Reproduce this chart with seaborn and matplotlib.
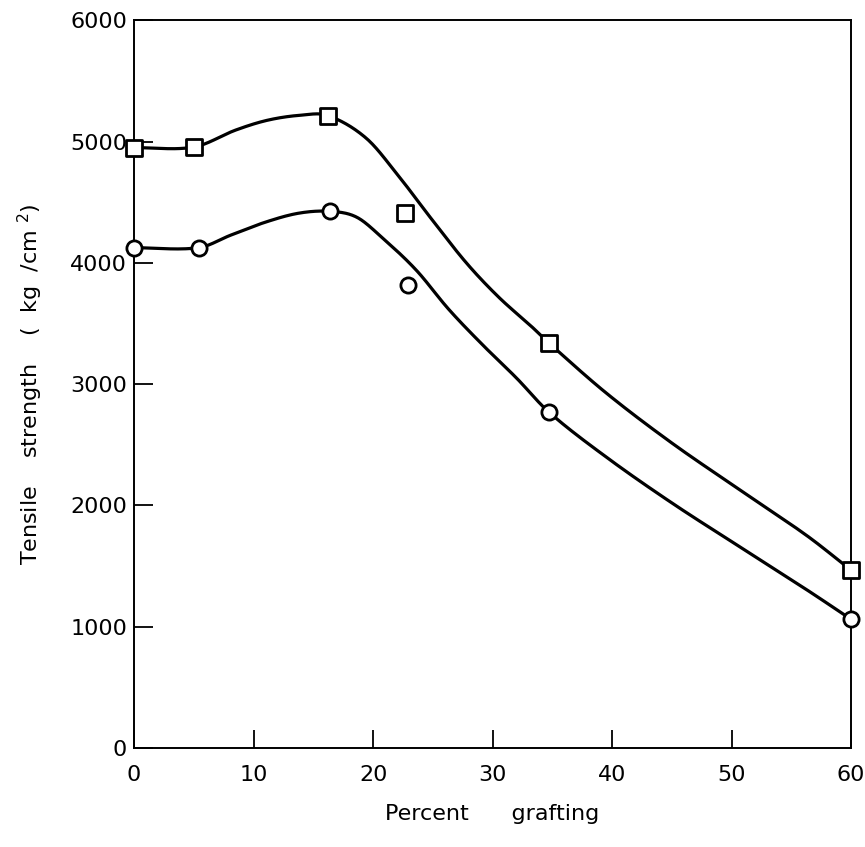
import numpy as np
import pandas as pd
import matplotlib
matplotlib.use("Agg")
import matplotlib.pyplot as plt
import seaborn as sns

# ---- data ----
pct_square = [0, 5, 16.2, 22.7, 34.7, 60]
ts_square = [4950, 4955, 5215, 4410, 3340, 1465]

pct_circle = [0, 5.4, 16.4, 22.9, 34.7, 60]
ts_circle = [4125, 4125, 4425, 3815, 2770, 1060]

# hand-drawn smooth fitted curves
curve_sq_x = [0, 5, 8.5, 11.2, 14, 16.2, 19.4, 22.1, 24.9, 27.8, 30.5, 33.3, 34.7, 39.5, 45, 50.7, 56.3, 60]
curve_sq_y = [4950, 4955, 5095, 5177, 5218, 5215, 5030, 4720, 4360, 4000, 3718, 3471, 3340, 2927, 2514, 2127, 1750, 1465]
curve_ci_x = [0, 5.4, 8.1, 11.0, 13.8, 16.4, 18.6, 20.7, 23.6, 26.3, 29.1, 32.0, 34.7, 39.5, 45, 50.7, 56.3, 60]
curve_ci_y = [4125, 4125, 4229, 4336, 4410, 4425, 4378, 4213, 3941, 3620, 3330, 3050, 2770, 2399, 2020, 1657, 1303, 1060]

x_ticks = [0, 10, 20, 30, 40, 50, 60]
y_ticks = [0, 1000, 2000, 3000, 4000, 5000, 6000]


def smooth(xs, ys, n=25):
    """Cubic Hermite densification (finite-difference tangents) of a traced curve."""
    x = np.asarray(xs, float)
    y = np.asarray(ys, float)
    m = np.empty_like(y)
    m[1:-1] = (y[2:] - y[:-2]) / (x[2:] - x[:-2])
    m[0] = (y[1] - y[0]) / (x[1] - x[0])
    m[-1] = (y[-1] - y[-2]) / (x[-1] - x[-2])
    ox, oy = [], []
    for i in range(len(x) - 1):
        h = x[i + 1] - x[i]
        t = np.linspace(0, 1, n, endpoint=False)
        h00 = 2 * t**3 - 3 * t**2 + 1
        h10 = t**3 - 2 * t**2 + t
        h01 = -2 * t**3 + 3 * t**2
        h11 = t**3 - t**2
        ox.append(x[i] + t * h)
        oy.append(h00 * y[i] + h10 * h * m[i] + h01 * y[i + 1] + h11 * h * m[i + 1])
    ox.append([x[-1]])
    oy.append([y[-1]])
    return np.concatenate(ox), np.concatenate(oy)


sns.set_theme(style="white")
plt.rcParams['font.family'] = ['DejaVu Sans']
plt.rcParams['mathtext.fontset'] = 'dejavusans'

fig = plt.figure(figsize=(8.65, 8.47), dpi=100)
ax = fig.add_axes([0.155, 0.117, 0.829, 0.859])

sx, sy = smooth(curve_sq_x, curve_sq_y)
cx, cy = smooth(curve_ci_x, curve_ci_y)
df_curves = pd.concat([
    pd.DataFrame({"x": sx, "y": sy, "s": "sq"}),
    pd.DataFrame({"x": cx, "y": cy, "s": "ci"}),
])
sns.lineplot(data=df_curves, x="x", y="y", units="s", estimator=None, sort=False,
             color="black", linewidth=2.3, ax=ax, legend=False)

df_sq = pd.DataFrame({"x": pct_square, "y": ts_square})
df_ci = pd.DataFrame({"x": pct_circle, "y": ts_circle})
sns.scatterplot(data=df_sq, x="x", y="y", marker="s", s=120, facecolor="white",
                edgecolor="black", linewidth=2.0, ax=ax, zorder=5, clip_on=False)
sns.scatterplot(data=df_ci, x="x", y="y", marker="o", s=120, facecolor="white",
                edgecolor="black", linewidth=2.0, ax=ax, zorder=5, clip_on=False)

ax.set_xlim(0, 60)
ax.set_ylim(0, 6000)
ax.set_xticks(x_ticks)
ax.set_yticks(y_ticks)
ax.set_xticklabels([str(v) for v in x_ticks], fontsize=16)
ax.set_yticklabels([str(v) for v in y_ticks], fontsize=16)
ax.tick_params(axis='x', direction='in', length=13, width=1.3, pad=12, colors='black',
               bottom=True, top=False)
ax.tick_params(axis='y', direction='in', length=14, width=1.3, pad=5, colors='black',
               left=True, right=False)
for sp in ax.spines.values():
    sp.set_visible(True)
    sp.set_color('black')
    sp.set_linewidth(1.4)

ax.set_xlabel("Percent      grafting", fontsize=16, labelpad=14, color='black')
ax.set_ylabel("Tensile    strength    (  kg  /cm $^{2}$)", fontsize=16, labelpad=18, color='black')

fig.savefig("out.png", dpi=100, facecolor="white")
